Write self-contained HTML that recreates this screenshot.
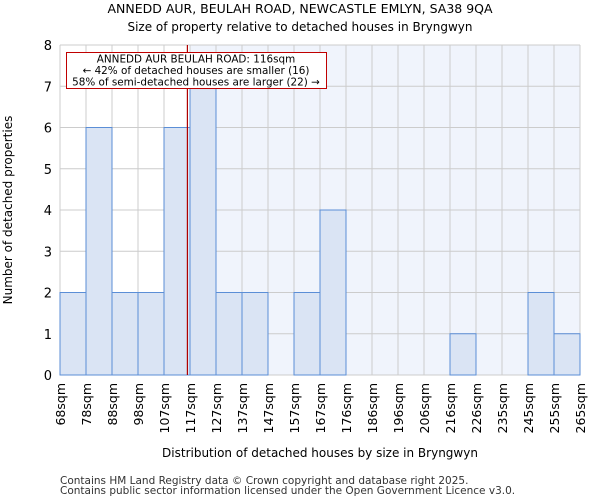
<!DOCTYPE html>
<html><head><meta charset="utf-8"><style>
body{margin:0;background:#fff;font-family:"DejaVu Sans","Liberation Sans",sans-serif}
svg text{font-family:"DejaVu Sans","Liberation Sans",sans-serif}
</style></head><body>
<svg id="chart" width="600" height="500" xmlns="http://www.w3.org/2000/svg">
<text x="300" y="13" text-anchor="middle" font-size="12.5">ANNEDD AUR, BEULAH ROAD, NEWCASTLE EMLYN, SA38 9QA</text>
<text x="300" y="31" text-anchor="middle" font-size="12">Size of property relative to detached houses in Bryngwyn</text>
<g id="plot"></g>
<text x="320" y="457" text-anchor="middle" font-size="12">Distribution of detached houses by size in Bryngwyn</text>
<text transform="translate(12,210) rotate(-90)" text-anchor="middle" font-size="12">Number of detached properties</text>
<text x="60" y="484" font-size="10.5" fill="#333">Contains HM Land Registry data © Crown copyright and database right 2025.</text>
<text x="60" y="494" font-size="10.5" fill="#333">Contains public sector information licensed under the Open Government Licence v3.0.</text>
</svg>
<script>
const binLabels=["68sqm","78sqm","88sqm","98sqm","107sqm","117sqm","127sqm","137sqm","147sqm","157sqm","167sqm","176sqm","186sqm","196sqm","206sqm","216sqm","226sqm","235sqm","245sqm","255sqm","265sqm"];
const counts=[2,6,2,2,6,7,2,2,0,2,4,0,0,0,0,1,0,0,2,1];
const yTicks=[0,1,2,3,4,5,6,7,8];
const markerBin=4.9;
const NS="http://www.w3.org/2000/svg";
const L=60,R=580,T=45,B=375,yMax=8;
const n=counts.length,bw=(R-L)/n;
const xs=i=>L+i*bw;
const ys=v=>B-(v/yMax)*(B-T);
const g=document.getElementById('plot');
function mk(t,a){const e=document.createElementNS(NS,t);for(const k in a)e.setAttribute(k,a[k]);g.appendChild(e);return e;}
let e=mk('rect',{x:L,y:T,width:R-L,height:B-T,fill:'#fff'});


const shadeStart=xs(Math.ceil(markerBin));
e=mk('rect',{x:shadeStart,y:T,width:R-shadeStart,height:B-T,fill:'#f0f4fc'});


for(let i=0;i<=n;i++){e=mk('line',{x1:xs(i),x2:xs(i),y1:T,y2:B,stroke:'#cccccc','stroke-width':1});

}
yTicks.forEach(t=>{e=mk('line',{x1:L,x2:R,y1:ys(t),y2:ys(t),stroke:'#cccccc','stroke-width':1});


const tx=mk('text',{x:L-8,y:ys(t)+5,'text-anchor':'end','font-size':13});tx.textContent=t;

});
counts.forEach((v,i)=>{if(v<=0)return;e=mk('rect',{x:xs(i),y:ys(v),width:bw,height:B-ys(v),fill:'#dae4f4',stroke:'#5b8ed6','stroke-width':1});

});
binLabels.forEach((l,i)=>{const tx=mk('text',{transform:`translate(${xs(i)+5},${B+8}) rotate(-90)`,'text-anchor':'end','font-size':12.5});tx.textContent=l;

});
e=mk('line',{x1:xs(markerBin),x2:xs(markerBin),y1:T,y2:B,stroke:'#b00000','stroke-width':1.2});


e=mk('rect',{x:66.5,y:52.5,width:260,height:36,fill:'#fff',stroke:'#c00000','stroke-width':1});


["ANNEDD AUR BEULAH ROAD: 116sqm","← 42% of detached houses are smaller (16)","58% of semi-detached houses are larger (22) →"].forEach((s,k)=>{const tx=mk('text',{x:196,y:62.5+k*11.5,'text-anchor':'middle','font-size':10.4});tx.textContent=s;

});
</script>
</body></html>
